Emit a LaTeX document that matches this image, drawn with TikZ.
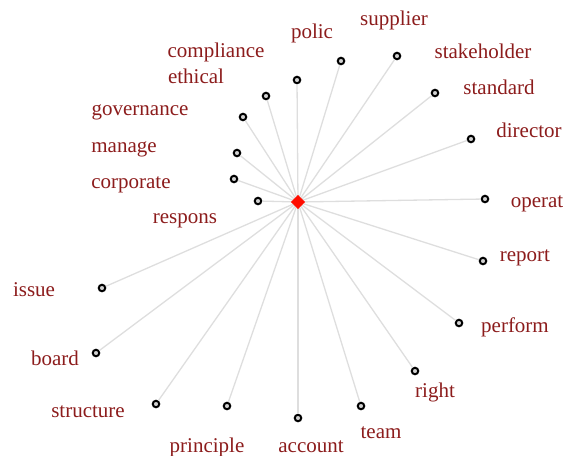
\documentclass[tikz,border=0pt]{standalone}
\usepackage{fontspec}
\setmainfont{Liberation Serif}
\usepackage{tikz}
\usetikzlibrary{shapes.geometric}
\definecolor{wordred}{RGB}{140,28,28}
\definecolor{edgegray}{RGB}{222,222,222}

\begin{document}
\begin{tikzpicture}
    [
      x=1pt,
      y=-1pt,
      hub/.style={diamond,fill=red!90!orange,minimum size=14pt,inner sep=0pt},
      leaf/.style={circle,draw=black,fill=gray!35,line width=2pt,minimum size=6.5pt,inner sep=0pt},
      word/.style={text=wordred,font=\fontsize{21}{24}\selectfont,inner sep=0pt},
      link/.style={draw=edgegray,line width=1.3pt},
    ]
    \useasboundingbox (0,0) rectangle (566,456);
    \node at (298, 202) [hub] (c) {};

    \node at (297, 80)  [leaf] (polic) {};
    \node at (341, 61)  [leaf] (supplier) {};
    \node at (397, 56)  [leaf] (stakeholder) {};
    \node at (435, 93)  [leaf] (standard) {};
    \node at (471, 139) [leaf] (director) {};
    \node at (485, 199) [leaf] (operat) {};
    \node at (483, 261) [leaf] (report) {};
    \node at (459, 323) [leaf] (perform) {};
    \node at (415, 371) [leaf] (right) {};
    \node at (361, 406) [leaf] (team) {};
    \node at (298, 418) [leaf] (account) {};
    \node at (227, 406) [leaf] (principle) {};
    \node at (156, 404) [leaf] (structure) {};
    \node at (96, 353)  [leaf] (board) {};
    \node at (102, 288) [leaf] (issue) {};
    \node at (258, 201) [leaf] (respons) {};
    \node at (234, 179) [leaf] (corporate) {};
    \node at (237, 153) [leaf] (manage) {};
    \node at (243, 117) [leaf] (governance) {};
    \node at (266, 96)  [leaf] (ethical) {};

    \draw[link] (c) -- (polic);
    \draw[link] (c) -- (supplier);
    \draw[link] (c) -- (stakeholder);
    \draw[link] (c) -- (standard);
    \draw[link] (c) -- (director);
    \draw[link] (c) -- (operat);
    \draw[link] (c) -- (report);
    \draw[link] (c) -- (perform);
    \draw[link] (c) -- (right);
    \draw[link] (c) -- (team);
    \draw[link] (c) -- (account);
    \draw[link] (c) -- (principle);
    \draw[link] (c) -- (structure);
    \draw[link] (c) -- (board);
    \draw[link] (c) -- (issue);
    \draw[link] (c) -- (respons);
    \draw[link] (c) -- (corporate);
    \draw[link] (c) -- (manage);
    \draw[link] (c) -- (governance);
    \draw[link] (c) -- (ethical);

    % words
    \node at (312, 33)  [word] (w-polic) {polic};
    \node at (394, 20)  [word] (w-supplier) {supplier};
    \node at (483, 51)  [word] (w-stakeholder) {stakeholder};
    \node at (499, 87)  [word] (w-standard) {standard};
    \node at (529, 130) [word] (w-director) {director};
    \node at (537, 204) [word] (w-operat) {operat};
    \node at (525, 258) [word] (w-report) {report};
    \node at (515, 327) [word] (w-perform) {perform};
    \node at (435, 392) [word] (w-right) {right};
    \node at (381, 433) [word] (w-team) {team};
    \node at (311, 447) [word] (w-account) {account};
    \node at (207, 447) [word] (w-principle) {principle};
    \node at (88, 412)  [word] (w-structure) {structure};
    \node at (55, 358)  [word] (w-board) {board};
    \node at (34, 290)  [word] (w-issue) {issue};
    \node at (185, 221) [word] (w-respons) {respons};
    \node at (131, 185) [word] (w-corporate) {corporate};
    \node at (124, 149) [word] (w-manage) {manage};
    \node at (140, 112) [word] (w-governance) {governance};
    \node at (196, 76)  [word] (w-ethical) {ethical};
    \node at (216, 52)  [word] (w-compliance) {compliance};

    % hub on top of the links
    \node at (298, 202) [hub] {};
\end{tikzpicture}
\end{document}
